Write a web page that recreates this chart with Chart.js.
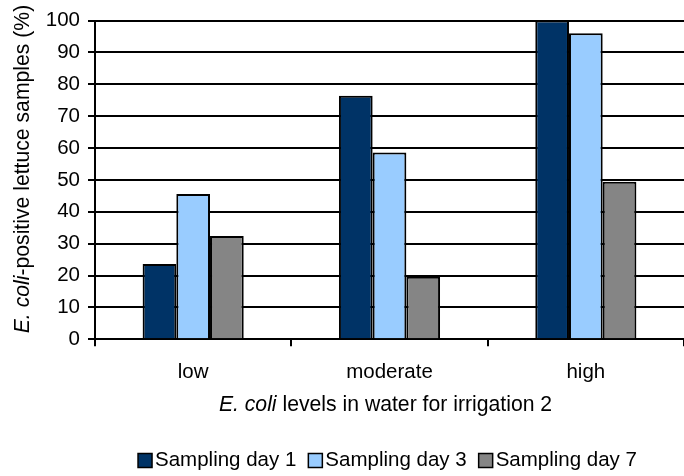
<!DOCTYPE html>
<html>
<head>
<meta charset="utf-8">
<script src="https://cdn.jsdelivr.net/npm/chart.js@4/dist/chart.umd.min.js"></script>
<style>
  html, body { margin: 0; padding: 0; background: #fff; }
</style>
</head>
<body>
<canvas id="chart" width="684" height="476"></canvas>
<script>
const categories = ['low', 'moderate', 'high'];
const seriesNames = ['Sampling day 1', 'Sampling day 3', 'Sampling day 7'];
const day1 = [23.6, 76.4, 100];
const day3 = [45.6, 58.6, 96];
const day7 = [32.4, 19.6, 49.4];
const yTicks = [0, 10, 20, 30, 40, 50, 60, 70, 80, 90, 100];

const colors = ['#003366', '#99ccff', '#858585'];
const font = 'Liberation Sans, Arial, sans-serif';
const fs = 20.5;
const titleFs = 21.2;

// axis titles have an italic part and the legend is packed tight, so draw them by hand
const extras = {
  id: 'extras',
  afterDraw(chart){
    const ctx = chart.ctx;
    const area = chart.chartArea;
    const parts = (italic, rest) => {
      ctx.font = 'italic ' + titleFs + 'px ' + font;
      const w1 = ctx.measureText(italic).width;
      ctx.font = titleFs + 'px ' + font;
      const w2 = ctx.measureText(rest).width;
      return [w1, w2];
    };
    ctx.save();
    ctx.fillStyle = '#000';
    ctx.textBaseline = 'middle';
    ctx.textAlign = 'left';

    // x title
    let [a, b] = parts('E. coli', ' levels in water for irrigation 2');
    let x0 = (area.left + area.right) / 2 - 4 - (a + b) / 2;
    ctx.font = 'italic ' + titleFs + 'px ' + font;
    ctx.fillText('E. coli', x0, 405);
    ctx.font = titleFs + 'px ' + font;
    ctx.fillText(' levels in water for irrigation 2', x0 + a, 405);

    // legend
    ctx.font = fs + 'px ' + font;
    const box = 14, gap = 3, sep = 12;
    const widths = chart.data.datasets.map(d => box + gap + ctx.measureText(d.label).width);
    const total = widths.reduce((s, w) => s + w, 0) + sep * (widths.length - 1);
    let lx = (area.left + area.right) / 2 - 2 - total / 2;
    const ly = 460.5;
    chart.data.datasets.forEach((d, i) => {
      ctx.fillStyle = d.backgroundColor;
      ctx.fillRect(lx, ly - box / 2, box, box);
      ctx.strokeStyle = '#000';
      ctx.lineWidth = 1.5;
      ctx.strokeRect(lx, ly - box / 2, box, box);
      ctx.fillStyle = '#000';
      ctx.fillText(d.label, lx + box + gap, ly);
      lx += widths[i] + sep;
    });

    // y title
    [a, b] = parts('E. coli', '-positive lettuce samples (%)');
    ctx.translate(23, 169);
    ctx.rotate(-Math.PI / 2);
    x0 = -(a + b) / 2;
    ctx.font = 'italic ' + titleFs + 'px ' + font;
    ctx.fillText('E. coli', x0, 0);
    ctx.font = titleFs + 'px ' + font;
    ctx.fillText('-positive lettuce samples (%)', x0 + a, 0);
    ctx.restore();
  }
};

const ds = [day1, day3, day7].map((vals, i) => ({
  label: seriesNames[i],
  data: vals,
  backgroundColor: colors[i],
  borderColor: '#000',
  borderWidth: 2,
  categoryPercentage: 0.515,
  barPercentage: 1
}));

new Chart(document.getElementById('chart'), {
  type: 'bar',
  data: { labels: categories, datasets: ds },
  plugins: [extras],
  options: {
    responsive: false,
    animation: false,
    layout: { padding: { left: 0, top: 20.5, right: 0, bottom: 0 } },
    plugins: {
      tooltip: { enabled: false },
      legend: { display: false }
    },
    scales: {
      x: {
        offset: true,
        afterFit: s => { s.height = 136.7; },
        grid: {
          offset: true,
          drawOnChartArea: false,
          drawTicks: true,
          tickLength: 7,
          color: '#000',
          lineWidth: 2
        },
        border: { color: '#000', width: 2 },
        ticks: { color: '#000', font: { family: font, size: fs }, padding: 14 }
      },
      y: {
        min: yTicks[0],
        max: yTicks[yTicks.length - 1],
        afterFit: s => { s.width = 95; },
        grid: { color: '#000', lineWidth: 2, tickLength: 7 },
        border: { color: '#000', width: 2 },
        ticks: { color: '#000', font: { family: font, size: fs }, padding: 8, stepSize: 10 }
      }
    }
  }
});
</script>
</body>
</html>
